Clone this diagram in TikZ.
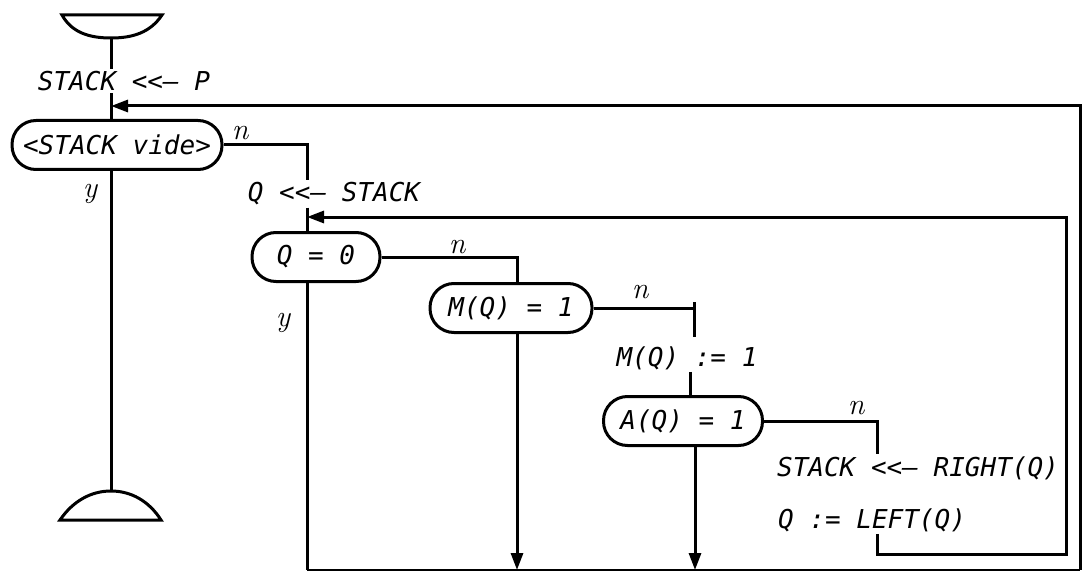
\documentclass[tikz,border=0pt]{standalone}
\usepackage{fontspec}
\setmonofont{DejaVu Sans Mono}
\usetikzlibrary{arrows.meta}
\tikzset{
 txt/.style={font=\ttfamily\itshape\fontsize{26}{30}\selectfont, inner sep=2pt},
 pill/.style={txt, rectangle, rounded corners=24pt, draw, line width=3pt, minimum height=49pt, inner xsep=0pt},
 ln/.style={line width=3pt},
 thinln/.style={line width=1.8pt},
 arr/.style={ln, -{Triangle[length=17pt,width=12pt]}},
 lbl/.style={font=\itshape\fontsize{30}{30}\selectfont, inner sep=0pt}
}
\begin{document}
\begin{tikzpicture}[x=1pt,y=-1pt]
\useasboundingbox (0,0) rectangle (1086,572);
% terminators
\draw[ln] (62,15) -- (162,15) .. controls (150,33) and (132,38) .. (111,38) .. controls (90,38) and (72,33) .. (62,15) -- cycle;
\coordinate (tt) at (111,38);
\draw[ln] (60,520) .. controls (73,501) and (91,491) .. (111,491) .. controls (131,491) and (149,501) .. (161,520) -- cycle;
\coordinate (bt) at (111,491);
% nodes
\node[txt] (start) at (124,81) {STACK <<— P};
\node[pill, minimum width=210pt] (vide) at (117,145) {<STACK vide>};
\node[txt] (qst) at (334,194) {Q <<— STACK};
\node[pill, minimum width=128pt] (q0) at (316,257) {Q = 0};
\node[pill, minimum width=162pt] (mq) at (511,308) {M(Q) = 1};
\node[txt] (mset) at (687,358) {M(Q) := 1};
\node[pill, minimum width=159pt] (aq) at (683,421) {A(Q) = 1};
\node[txt] (right) at (918,468) {STACK <<— RIGHT(Q)};
\node[txt] (left) at (872,520) {Q := LEFT(Q)};
% coordinates
\coordinate (j1) at (111,106);
\coordinate (j2) at (307,217);
\coordinate (xm) at (517,0);
\coordinate (t1) at (694,302);
\coordinate (t2) at (694,337);
\coordinate (xb) at (690,0);
\coordinate (xa) at (695,0);
\coordinate (xc) at (877,0);
\coordinate (b1) at (307,570);
\coordinate (b2) at (1080,570);
\coordinate (o1) at (1080,106);
\coordinate (i1) at (877,554);
\coordinate (i2) at (1066,554);
\coordinate (i3) at (1066,217);
% connectors
\draw[ln] (tt) -- (tt |- start.north);
\draw[ln] (start.south -| j1) -- (j1 |- vide.north);
\draw[ln] (j1 |- vide.south) -- (bt);
\draw[ln] (vide.east) -| (j2 |- qst.north);
\draw[ln] (qst.south -| j2) -- (j2 |- q0.north);
\draw[ln] (q0.east) -| (xm |- mq.north);
\draw[ln] (q0.south -| j2) -- (b1);
\draw[thinln] (b1) -- (b2);
\draw[arr] (b2) -- (o1) -- (j1);
\draw[arr] (xm |- mq.south) -- (xm |- b1);
\draw[ln] (mq.east) -- (mq.east -| t1);
\draw[ln] (t1) -- (t2);
\draw[ln] (mset.south -| xb) -- (xb |- aq.north);
\draw[arr] (aq.south -| xa) -- (xa |- b1);
\draw[ln] (aq.east) -| (xc |- right.north);
\draw[arr] (left.south -| xc) -- (i1) -- (i2) -- (i3) -- (j2);
% branch labels
\node[lbl] (n1) at (240,133) {n};
\node[lbl] (y1) at (90,194) {y};
\node[lbl] (n2) at (457,247) {n};
\node[lbl] (y2) at (283,323) {y};
\node[lbl] (n3) at (640,292) {n};
\node[lbl] (n4) at (856,408) {n};
\end{tikzpicture}
\end{document}
